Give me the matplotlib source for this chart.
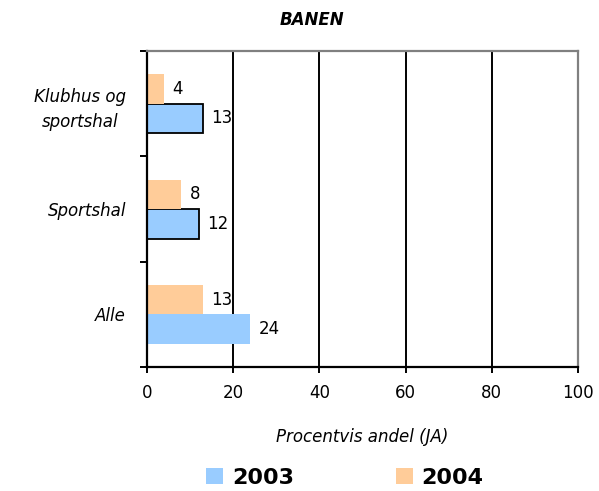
import matplotlib.pyplot as plt
import numpy as np

# Kategorier (nedefra og op) og andele i procent
kategorier = ["Alle", "Sportshal", "Klubhus og\nsportshal"]
andel_2003 = [24, 12, 13]
andel_2004 = [13, 8, 4]
kant_2003 = ["none", "black", "black"]

blaa = "#99CCFF"
orange = "#FFCC99"

fig = plt.figure(figsize=(5.99, 4.91), dpi=100)
ax = fig.add_axes([0.2454, 0.2525, 0.7196, 0.6436])

y = np.arange(len(kategorier))
h = 0.28

b03 = ax.barh(y - h / 2, andel_2003, height=h, color=blaa,
              edgecolor=kant_2003, linewidth=1.3, label="2003")
b04 = ax.barh(y + h / 2, andel_2004, height=h, color=orange,
              edgecolor="none", label="2004")

# Værdier ved enden af søjlerne
for bar, v in zip(b03, andel_2003):
    ax.text(v + 1.9, bar.get_y() + bar.get_height() / 2, str(v),
            va="center", ha="left", fontsize=12)
for bar, v in zip(b04, andel_2004):
    ax.text(v + 1.9, bar.get_y() + bar.get_height() / 2, str(v),
            va="center", ha="left", fontsize=12)

ax.set_xlim(0, 100)
ax.set_ylim(-0.5, 2.5)
ax.set_xticks([0, 20, 40, 60, 80, 100])
ax.set_xticklabels(["0", "20", "40", "60", "80", "100"], fontsize=12)

# Tickmærker mellem kategorierne, labels i midten
ax.set_yticks([-0.5, 0.5, 1.5, 2.5])
ax.set_yticklabels([])
ax.set_yticks(y, minor=True)
ax.set_yticklabels(kategorier, minor=True, fontsize=12, style="italic")
for lbl in ax.get_yticklabels(minor=True):
    lbl.set_multialignment("center")
    lbl.set_linespacing(1.5)
ax.tick_params(axis="y", which="major", length=5, width=1.4, direction="out")
ax.tick_params(axis="y", which="minor", length=0, pad=15)
ax.tick_params(axis="x", length=4, width=1.4, pad=8)

ax.set_axisbelow(True)
ax.xaxis.grid(True, color="black", linewidth=1.4)
ax.yaxis.grid(False)

for side in ["left", "bottom"]:
    ax.spines[side].set_color("black")
    ax.spines[side].set_linewidth(1.6)
for side in ["top", "right"]:
    ax.spines[side].set_color("#808080")
    ax.spines[side].set_linewidth(1.6)

ax.set_xlabel("Procentvis andel (JA)", fontsize=12, style="italic", labelpad=19)

fig.text(312 / 599, 1 - 20 / 491, "BANEN", ha="center", va="center",
         fontsize=12, fontweight="bold", style="italic")

leg = fig.legend(handles=[b03, b04], labels=["2003", "2004"], ncol=2,
                 loc="center", bbox_to_anchor=(345 / 599, 1 - 478 / 491),
                 frameon=False, prop=dict(size=16, weight="bold"),
                 handlelength=0.75, handleheight=0.75, handletextpad=0.4,
                 columnspacing=4.6)
for p in leg.get_patches():
    p.set_edgecolor("none")

fig.savefig("out.png", dpi=100)
